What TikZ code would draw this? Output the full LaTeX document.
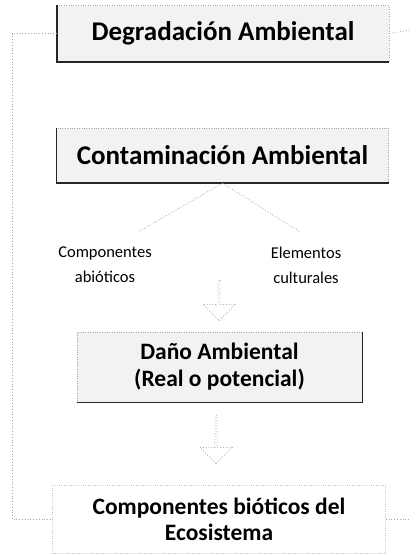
\documentclass[tikz,border=0pt]{standalone}
\usepackage{fontspec}
\setmainfont{Carlito}
\usetikzlibrary{shapes.arrows}
\tikzset{
  mainbox/.style={draw=gray!70, dotted, fill=gray!10, minimum width=332pt,
    minimum height=56pt, font=\bfseries\fontsize{27}{30}\selectfont},
  sidebox/.style={draw=gray!70, dotted, fill=gray!10, align=center,
    font=\bfseries\fontsize{23.5}{27}\selectfont},
  endbox/.style={draw=gray!45, dotted, align=center,
    font=\bfseries\fontsize{23.5}{26}\selectfont},
  edge/.style={line width=1.6pt, black!85},
  link/.style={gray!70, dotted, thick},
  caption/.style={align=center, font=\fontsize{16.5}{25}\selectfont},
  downarrow/.style={single arrow, draw=gray!70, dotted, thick,
    shape border rotate=270, minimum height=40pt, minimum width=32pt,
    single arrow head extend=6pt, inner sep=0pt},
}
\begin{document}
\begin{tikzpicture}[x=1pt,y=1pt]
  \useasboundingbox (0,0) rectangle (416,-555);
  % boxes
  \node[mainbox] (degr) at (223,-33.5) {Degradación Ambiental};
  \node[mainbox, minimum height=55pt] (cont) at (222.5,-155.5) {Contaminación Ambiental};
  \node[sidebox, minimum width=285pt, minimum height=70pt] (dano) at (219.5,-367)
    {Daño Ambiental\\(Real o potencial)};
  \node[endbox, minimum width=333pt, minimum height=68pt] (biot) at (219,-519)
    {Componentes bióticos del\\Ecosistema};
  % shadow edges
  \draw[edge] (degr.north west) -- (degr.south west) -- (degr.south east);
  \draw[edge] (cont.north west) -- (cont.south west) -- (cont.south east);
  \draw[edge, line width=1.2pt] (dano.south west) -- (dano.south east) -- (dano.north east);
  % branches
  \node[caption] (abio) at (105,-265) {Componentes\\abióticos};
  \node[caption] (cult) at (306,-265) {Elementos\\culturales};
  \coordinate (abioend) at (138,-232);
  \coordinate (cultend) at (300,-232);
  \draw[link] (cont.south) -- (abioend);
  \draw[link] (cont.south) -- (cultend);
  \node[downarrow] (arrA) at (219,-300) {};
  \node[downarrow, minimum height=48pt] (arrB) at (216,-439) {};
  % frame
  \coordinate (rtop) at (410,-30);
  \coordinate (rbot) at (410,-519);
  \draw[link] (degr.west) -- (12,-33.5) |- (biot.west);
  \draw[link] (degr.east) -- (rtop);
  \draw[link] (biot.east) -- (rbot);
\end{tikzpicture}
\end{document}
